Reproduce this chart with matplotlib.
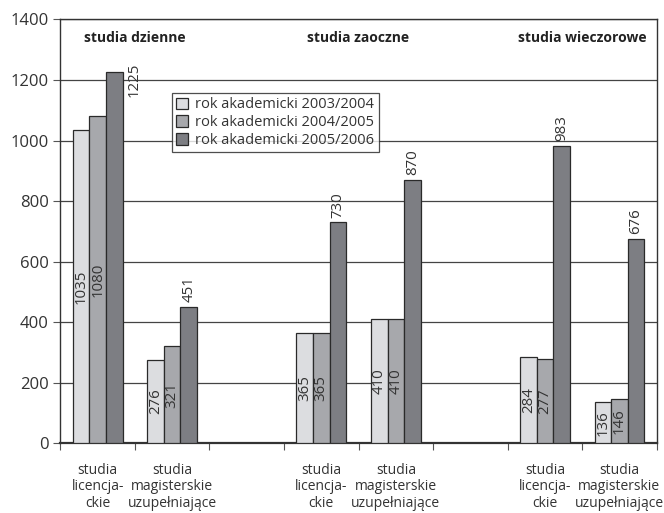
import matplotlib.pyplot as plt
import numpy as np

plt.rcParams['font.family'] = ['Open Sans', 'DejaVu Sans']

# one slot per column, empty slots separate the three study modes
slot_labels = ['studia\nlicencja-\nckie', 'studia\nmagisterskie\nuzupełniające', '',
               'studia\nlicencja-\nckie', 'studia\nmagisterskie\nuzupełniające', '',
               'studia\nlicencja-\nckie', 'studia\nmagisterskie\nuzupełniające']
slots = [0, 1, 3, 4, 6, 7]
years = ['rok akademicki 2003/2004', 'rok akademicki 2004/2005', 'rok akademicki 2005/2006']
y2003 = [1035, 276, 365, 410, 284, 136]
y2004 = [1080, 321, 365, 410, 277, 146]
y2005 = [1225, 451, 730, 870, 983, 676]
groups = ['studia dzienne', 'studia zaoczne', 'studia wieczorowe']
colors = ['#dcdde0', '#a7a8ac', '#7d7e83']

fig = plt.figure(figsize=(6.64, 5.13), dpi=100)
ax = fig.add_axes([0.091, 0.136, 0.898, 0.826])

w = 0.222
x = np.array(slots) + 0.5
for k, vals in enumerate([y2003, y2004, y2005]):
    xs = x + (k - 1) * w
    ax.bar(xs, vals, width=w, color=colors[k], edgecolor='#2a2a2a',
           linewidth=0.9, label=years[k], zorder=3)
    for xi, v in zip(xs, vals):
        if k < 2:
            ax.text(xi, v / 2, str(v), rotation=90, ha='center', va='center',
                    fontsize=10.8, color='#333333', zorder=4)
        elif v > 1150:
            # too close to the header, put it beside the bar
            ax.text(xi + 0.265, v - 25, str(v), rotation=90, ha='center', va='center',
                    fontsize=10.8, color='#333333', zorder=4)
        else:
            ax.text(xi, v + 15, str(v), rotation=90, ha='center', va='bottom',
                    fontsize=10.8, color='#333333', zorder=4)

for i, g in enumerate(groups):
    ax.text(3 * i + 1, 1340, g, ha='center', va='center', fontsize=10,
            fontweight='bold', color='#222222')

ax.set_xlim(0, 8)
ax.set_ylim(0, 1400)
ax.set_yticks(range(0, 1401, 200))
ax.yaxis.grid(True, color='#444444', linewidth=0.9, zorder=0)
ax.set_xticks(range(0, 9))
ax.set_xticklabels([])
ax.set_xticks(np.arange(8) + 0.5, minor=True)
ax.set_xticklabels(slot_labels, minor=True, fontsize=10, color='#333333',
                   linespacing=1.15)
ax.tick_params(axis='x', which='minor', length=0, pad=14)
ax.tick_params(axis='x', which='major', length=5, color='#555555')
ax.tick_params(axis='y', length=5, labelsize=12, color='#555555', labelcolor='#333333')
for s in ax.spines.values():
    s.set_color('#333333')
    s.set_linewidth(1.0)
ax.spines['bottom'].set_linewidth(1.6)

leg = ax.legend(loc='upper left', bbox_to_anchor=(0.187, 0.827), fontsize=10.5,
                frameon=True, fancybox=False, handlelength=0.8, handleheight=0.8,
                handletextpad=0.5, borderpad=0.3, labelspacing=0.2,
                borderaxespad=0)
leg.get_frame().set_edgecolor('#222222')
leg.get_frame().set_linewidth(0.9)
leg.set_zorder(5)
for t in leg.get_texts():
    t.set_color('#333333')

fig.savefig('out.png', dpi=100)
